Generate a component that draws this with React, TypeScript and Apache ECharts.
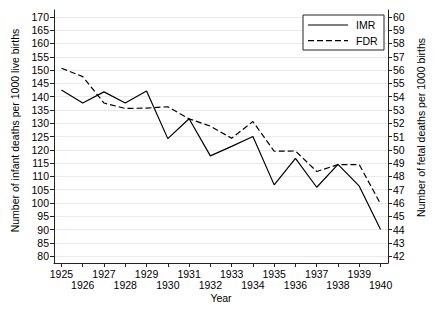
import React, { useEffect, useRef } from "react";
import * as echarts from "echarts";

const years = [1925, 1926, 1927, 1928, 1929, 1930, 1931, 1932, 1933, 1934, 1935, 1936, 1937, 1938, 1939, 1940];
const imr = [142.5, 137.6, 141.8, 137.6, 142.1, 124.2, 131.7, 117.7, 121.3, 125.0, 106.8, 116.8, 105.9, 114.5, 106.3, 90.0];
const fdr = [56.14, 55.51, 53.52, 53.11, 53.14, 53.24, 52.33, 51.78, 50.87, 52.13, 49.89, 49.91, 48.37, 48.88, 48.88, 45.93];
const leftTicks = [80, 85, 90, 95, 100, 105, 110, 115, 120, 125, 130, 135, 140, 145, 150, 155, 160, 165, 170];
const rightTicks = [42, 43, 44, 45, 46, 47, 48, 49, 50, 51, 52, 53, 54, 55, 56, 57, 58, 59, 60];
const seriesNames = ["IMR", "FDR"];
const oddYears = years.filter((y) => y % 2 === 1);
const evenYears = years.filter((y) => y % 2 === 0);

const FONT = "'Liberation Sans', Arial, Helvetica, sans-serif";
const FS = 10.5;
const DASH = [6, 3];

export default function App() {
  const ref = useRef<HTMLDivElement>(null);
  useEffect(() => {
    if (!ref.current) return;
    const chart = echarts.init(ref.current, undefined, { renderer: "svg" });
    const axisLine = { show: true, lineStyle: { color: "#222", width: 1 } };
    const axisTick = { show: true, length: 4, lineStyle: { color: "#222", width: 1 } };
    const labelBase = {
      showMinLabel: true,
      showMaxLabel: true,
      fontFamily: FONT,
      fontSize: FS,
      color: "#000",
      formatter: (v: number) => String(v),
    };
    const legendEls: any[] = [];
    seriesNames.forEach((n, i) => {
      const y = 25 + i * 15.7;
      legendEls.push({
        type: "line",
        z: 101,
        shape: { x1: 308, y1: y, x2: 348, y2: y },
        style: { stroke: "#000", lineWidth: 1.2, lineDash: i === 1 ? DASH : null },
      });
      legendEls.push({
        type: "text",
        z: 101,
        x: 356,
        y: y,
        style: { text: n, font: `${FS}px ${FONT}`, fill: "#000", verticalAlign: "middle" },
      });
    });
    chart.setOption({
      animation: false,
      backgroundColor: "#fff",
      textStyle: { fontFamily: FONT },
      grid: { left: 54, right: 48, top: 10, bottom: 54, containLabel: false },
      graphic: [
        {
          type: "rect",
          z: 100,
          shape: { x: 303, y: 15, width: 81, height: 35 },
          style: { fill: "#fff", stroke: "#222", lineWidth: 1 },
        },
        ...legendEls,
      ],
      xAxis: [
        {
          type: "value",
          position: "bottom",
          min: 1924.65,
          max: 1940.35,
          name: "Year",
          nameLocation: "middle",
          nameGap: 29,
          nameTextStyle: { fontFamily: FONT, fontSize: FS, color: "#000" },
          axisLine,
          axisTick: { ...axisTick, customValues: years },
          splitLine: { show: false },
          axisLabel: { ...labelBase, customValues: oddYears, margin: 5 },
        },
        {
          type: "value",
          position: "bottom",
          min: 1924.65,
          max: 1940.35,
          axisLine: { show: false },
          axisTick: { show: false },
          splitLine: { show: false },
          axisLabel: { ...labelBase, customValues: evenYears, margin: 16 },
        },
      ],
      yAxis: [
        {
          type: "value",
          position: "left",
          min: 77.4,
          max: 172.6,
          name: "Number of infant deaths per 1000 live births",
          nameLocation: "middle",
          nameGap: 32,
          nameTextStyle: { fontFamily: FONT, fontSize: FS, color: "#000", padding: [0, 0, 0, 12] },
          axisLine,
          axisTick: { ...axisTick, customValues: leftTicks },
          axisLabel: { ...labelBase, customValues: leftTicks, margin: 5 },
          splitLine: { show: true, lineStyle: { color: "#eaeaea", width: 1 } },
        },
        {
          type: "value",
          position: "right",
          min: 41.48,
          max: 60.52,
          name: "Number of fetal deaths per 1000 births",
          nameLocation: "middle",
          nameGap: 25,
          nameTextStyle: { fontFamily: FONT, fontSize: FS, color: "#000", padding: [0, 0, 0, 18] },
          axisLine,
          axisTick: { ...axisTick, customValues: rightTicks },
          axisLabel: { ...labelBase, customValues: rightTicks, margin: 5 },
          splitLine: { show: false },
        },
      ],
      series: [
        {
          name: seriesNames[0],
          type: "line",
          xAxisIndex: 0,
          yAxisIndex: 0,
          symbol: "none",
          lineStyle: { color: "#000", width: 1.2, type: "solid" },
          itemStyle: { color: "#000" },
          data: years.map((y, i) => [y, imr[i]]),
        },
        {
          name: seriesNames[1],
          type: "line",
          xAxisIndex: 0,
          yAxisIndex: 1,
          symbol: "none",
          lineStyle: { color: "#000", width: 1.2, type: DASH },
          itemStyle: { color: "#000" },
          data: years.map((y, i) => [y, fdr[i]]),
        },
      ],
    });
    return () => chart.dispose();
  }, []);
  return <div ref={ref} style={{ position: "fixed", left: 0, top: 0, width: 436, height: 317 }} />;
}
